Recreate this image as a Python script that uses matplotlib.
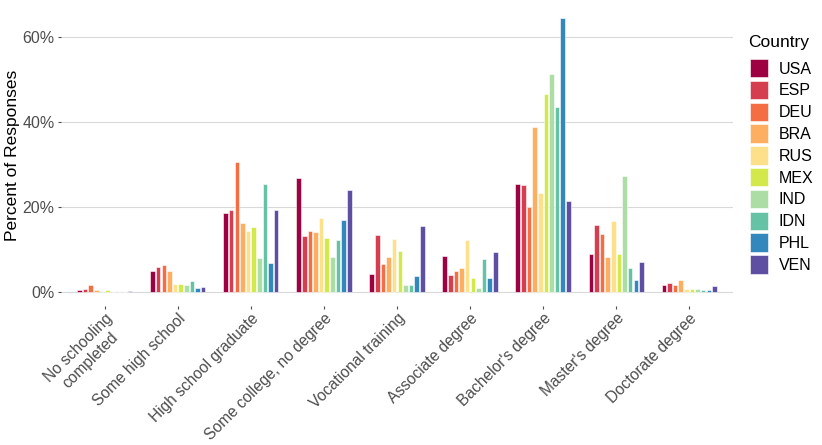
import numpy as np
import matplotlib.pyplot as plt

# datos (% de respuestas)
education = [
    "No schooling\ncompleted", "Some high school", "High school graduate",
    "Some college, no degree", "Vocational training", "Associate degree",
    "Bachelor's degree", "Master's degree", "Doctorate degree",
]
countries = ["USA", "ESP", "DEU", "BRA", "RUS", "MEX", "IND", "IDN", "PHL", "VEN"]

usa = [0.55, 4.9, 18.7, 27.0, 4.2, 8.5, 25.6, 9.0, 1.6]
esp = [0.8, 6.0, 19.3, 13.3, 13.4, 4.1, 25.3, 15.8, 2.1]
deu = [1.6, 6.35, 30.7, 14.4, 6.6, 4.9, 20.1, 13.7, 1.7]
bra = [0.55, 4.9, 16.4, 14.1, 8.2, 5.6, 38.9, 8.3, 3.0]
rus = [0.1, 2.0, 14.4, 17.6, 12.5, 12.4, 23.4, 16.8, 0.8]
mex = [0.5, 2.0, 15.3, 12.7, 9.7, 3.3, 46.6, 9.1, 0.7]
ind = [0.1, 1.7, 8.1, 8.2, 1.6, 0.9, 51.5, 27.3, 0.7]
idn = [0.05, 2.7, 25.5, 12.4, 1.8, 7.8, 43.5, 5.6, 0.55]
phl = [0.1, 1.0, 6.8, 17.0, 3.9, 3.4, 64.5, 2.8, 0.5]
ven = [0.3, 1.3, 19.3, 24.0, 15.5, 9.5, 21.6, 7.1, 1.4]

series = [usa, esp, deu, bra, rus, mex, ind, idn, phl, ven]
colors = ["#9E0142", "#D53E4F", "#F46D43", "#FDAE61", "#FEE08B",
          "#D3E84A", "#ABDDA4", "#66C2A5", "#3288BD", "#5E4FA2"]

plt.rcParams['font.family'] = ['Liberation Sans', 'DejaVu Sans']

fig = plt.figure(figsize=(8.22, 4.45), dpi=100)
ax = fig.add_axes([0.0742, 0.3124, 0.8175, 0.6773])

x = np.arange(1, len(education) + 1)
slot = 0.077
bar_w = 0.062
for i, (name, vals) in enumerate(zip(countries, series)):
    offs = (i - 4.5) * slot
    ax.bar(x + offs, vals, width=bar_w, color=colors[i], edgecolor="#ffffff",
           linewidth=0.4, label=name, zorder=3)

ax.set_xlim(0.4, len(education) + 0.6)
ymax = max(max(s) for s in series)
ax.set_ylim(-0.05 * ymax, 1.05 * ymax)
ax.set_yticks([0, 20, 40, 60])
ax.set_yticklabels(["0%", "20%", "40%", "60%"])
ax.set_xticks(x)
ax.set_xticklabels(education, rotation=45, ha="right", va="top",
                   rotation_mode="anchor", multialignment="center",
                   fontsize=11.2)

ax.grid(axis="y", color="#d9d9d9", linewidth=0.8, zorder=0)
ax.grid(axis="x", visible=False)
for s in ax.spines.values():
    s.set_visible(False)
ax.tick_params(axis="y", colors="#4d4d4d", labelsize=11.5, length=2.5,
               width=0.8, pad=2)
ax.tick_params(axis="x", colors="#4d4d4d", length=2.5, width=0.8, pad=1)
ax.set_ylabel("Percent of Responses", fontsize=12.5, labelpad=2)

# leyenda a la derecha, título aparte
fig.text(0.91, 1 - 42 / 445, "Country", fontsize=12.5, ha="left", va="center")
handles, labels = ax.get_legend_handles_labels()
fig.legend(handles, labels, loc="upper left",
           bbox_to_anchor=(0.9124, 1 - 59 / 445), bbox_transform=fig.transFigure,
           frameon=False, fontsize=11.5, borderpad=0, borderaxespad=0,
           handlelength=1.15, handleheight=1.4, handletextpad=0.65,
           labelspacing=0.21)

fig.savefig("out.png", dpi=100)
